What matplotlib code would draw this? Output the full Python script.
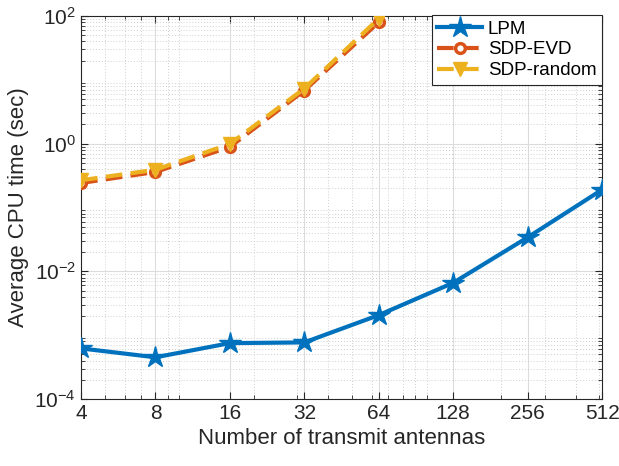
import numpy as np
import matplotlib
matplotlib.use('Agg')
import matplotlib.pyplot as plt
from matplotlib.ticker import FixedLocator, LogLocator, NullFormatter, FixedFormatter

# data
antennas = [4, 8, 16, 32, 64, 128, 256, 512]
lpm = [6.2e-4, 4.5e-4, 7.5e-4, 7.7e-4, 2.06e-3, 6.6e-3, 3.4e-2, 0.19]
sdp_ant = [4, 8, 16, 32, 64]
sdp_evd = [0.242, 0.36, 0.89, 6.8, 80]
sdp_random = [0.267, 0.39, 0.99, 7.3, 91]

plt.rcParams['font.family'] = ['Liberation Sans', 'DejaVu Sans']
plt.rcParams['mathtext.fontset'] = 'custom'
plt.rcParams['mathtext.rm'] = 'Liberation Sans'
plt.rcParams['mathtext.it'] = 'Liberation Sans'

fig = plt.figure(figsize=(6.19, 4.66), dpi=100)
ax = fig.add_axes([0.1309, 0.1438, 0.8417, 0.8219])

ax.plot(antennas, lpm, '-', color='#0072BD', lw=3, marker='*', ms=16,
        label='LPM', zorder=3)
ax.plot(sdp_ant, sdp_evd, '--', color='#D95319', lw=3, marker='o', ms=7,
        mfc='white', mew=2.5, label='SDP-EVD', zorder=3, dashes=(4, 2))
ax.plot(sdp_ant, sdp_random, '--', color='#EDB120', lw=3, marker='v', ms=10,
        label='SDP-random', zorder=4, dashes=(4, 2))

ax.set_xscale('log')
ax.set_yscale('log')
ax.set_xlim(4, 512)
ax.set_ylim(1e-4, 1e2)

ax.xaxis.set_major_locator(FixedLocator(antennas))
ax.xaxis.set_major_formatter(FixedFormatter([str(a) for a in antennas]))
ax.xaxis.set_minor_locator(LogLocator(base=10, subs=np.arange(1, 10)))
ax.xaxis.set_minor_formatter(NullFormatter())

ax.yaxis.set_major_locator(FixedLocator([1e-4, 1e-2, 1e0, 1e2]))
ax.yaxis.set_major_formatter(FixedFormatter([r'$10^{-4}$', r'$10^{-2}$', r'$10^{0}$', r'$10^{2}$']))
ax.yaxis.set_minor_locator(LogLocator(base=10, subs=np.arange(2, 10), numticks=20))
ax.yaxis.set_minor_formatter(NullFormatter())

ax.grid(True, which='major', color='#dcdcdc', lw=0.8)
ax.grid(True, which='minor', color='#cfcfcf', lw=0.7, ls=(0, (1, 2)))
ax.set_axisbelow(True)

ax.tick_params(which='both', direction='in', top=True, right=True, colors='#262626',
               labelsize=15)
ax.tick_params(which='major', length=5)
ax.tick_params(which='minor', length=3)
for s in ax.spines.values():
    s.set_color('#262626')
    s.set_linewidth(0.8)

ax.set_xlabel('Number of transmit antennas', fontsize=16, color='#262626')
ax.set_ylabel('Average CPU time (sec)', fontsize=16, color='#262626')

leg = ax.legend(loc='upper right', fontsize=13.5, fancybox=False, framealpha=1,
                edgecolor='#262626', borderaxespad=0.0, handlelength=2.4,
                handletextpad=0.3, borderpad=0.3, labelspacing=0.2,
                bbox_to_anchor=(1.0, 1.003))
leg.get_frame().set_linewidth(0.8)

fig.savefig('out.png', dpi=100)
